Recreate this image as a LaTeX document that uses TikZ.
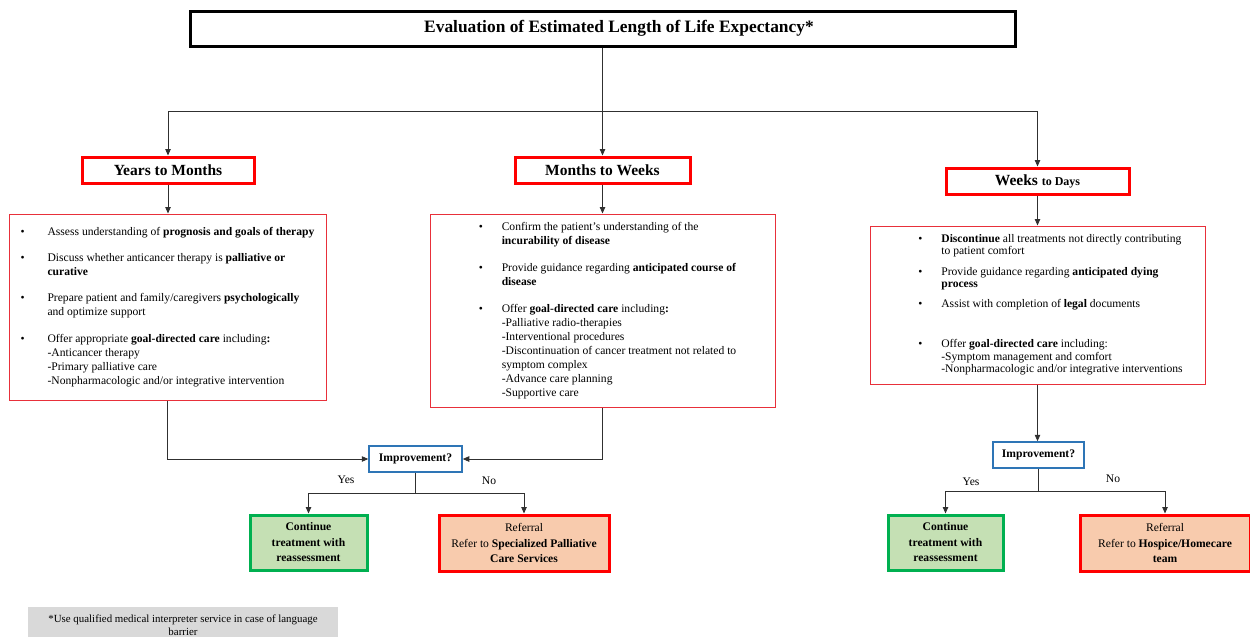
\documentclass[tikz,border=0pt]{standalone}
\usepackage{fontspec}
\setmainfont{Liberation Serif}
\usetikzlibrary{arrows.meta}

\definecolor{boxred}{HTML}{FF0000}
\definecolor{linered}{HTML}{E8303A}
\definecolor{impblue}{HTML}{2E75B6}
\definecolor{contgreen}{HTML}{00B050}
\definecolor{contfill}{HTML}{C5E0B4}
\definecolor{reffill}{HTML}{F8CBAD}
\definecolor{notegray}{HTML}{D9D9D9}
\definecolor{linegray}{HTML}{303030}

\newcommand{\bodyfont}{\fontsize{11.6}{14}\selectfont}

\begin{document}
\begin{tikzpicture}[x=1pt, y=-1pt,
    title/.style={draw=black, line width=3pt, minimum width=825pt, minimum height=35pt, inner sep=0pt, font=\bfseries\fontsize{17.4}{20}\selectfont},
    stage/.style={draw=boxred, line width=3pt, minimum height=26pt, inner sep=0pt, font=\bfseries\fontsize{15.5}{18}\selectfont},
    listbox/.style={draw=linered, line width=1pt, inner sep=0pt},
    question/.style={draw=impblue, line width=1.5pt, minimum height=26pt, inner sep=0pt, font=\bfseries\bodyfont},
    keepon/.style={draw=contgreen, fill=contfill, line width=3pt, minimum height=55pt, inner sep=0pt, align=center, font=\bfseries\fontsize{11.6}{15.5}\selectfont},
    referral/.style={draw=boxred, fill=reffill, line width=3pt, minimum width=170pt, minimum height=56pt, inner sep=0pt, align=center, font=\fontsize{11.6}{15.5}\selectfont},
    answer/.style={font=\bodyfont, inner sep=0pt},
    link/.style={draw=linegray, line width=0.8pt},
    arr/.style={link, -{Triangle[length=6.5pt,width=5.5pt]}}
  ]
  \useasboundingbox (0,0) rectangle (1250,637);

  % Title
  \node[title] (title) at (602.5,28.5) {\hspace*{33pt}Evaluation of Estimated Length of Life Expectancy*};

  % Stages
  \node[stage, minimum width=172pt] (ym) at (168,170) {Years to Months};
  \node[stage, minimum width=175pt] (mw) at (602.5,170) {Months to Weeks};
  \node[stage, minimum width=183pt] (wd) at (1037.5,181) {Weeks {\fontsize{12}{14}\selectfont to Days}};

  % Care boxes
  \node[listbox, minimum width=317pt, minimum height=186pt] (b1) at (167.5,307) {\bodyfont
    \begin{tabular}{@{}p{27pt}@{}l@{}}
      \textbullet & Assess understanding of \textbf{prognosis and goals of therapy}\\[12pt]
      \textbullet & Discuss whether anticancer therapy is \textbf{palliative or}\\
                  & \textbf{curative}\\[12pt]
      \textbullet & Prepare patient and family/caregivers \textbf{psychologically}\\
                  & and optimize support\\[13pt]
      \textbullet & Offer appropriate \textbf{goal-directed care} including\textbf{:}\\
                  & -Anticancer therapy\\
                  & -Primary palliative care\\
                  & -Nonpharmacologic and/or integrative intervention
    \end{tabular}};
  \node[listbox, minimum width=345pt, minimum height=193pt] (b2) at (602.5,310.5) {\bodyfont
    \begin{tabular}{@{\hspace{10pt}}p{23pt}@{}l@{}}
      \textbullet & Confirm the patient’s understanding of the\\
                  & \textbf{incurability of disease}\\[13pt]
      \textbullet & Provide guidance regarding \textbf{anticipated course of}\\
                  & \textbf{disease}\\[13pt]
      \textbullet & Offer \textbf{goal-directed care} including\textbf{:}\\
                  & -Palliative radio-therapies\\
                  & -Interventional procedures\\
                  & -Discontinuation of cancer treatment not related to\\
                  & symptom complex\\
                  & -Advance care planning\\
                  & -Supportive care
    \end{tabular}};
  \node[listbox, minimum width=335pt, minimum height=158pt] (b3) at (1037.5,305) {\fontsize{11.6}{12.5}\selectfont
    \begin{tabular}{@{\hspace{26pt}}p{23pt}@{}l@{}}
      \textbullet & \textbf{Discontinue} all treatments not directly contributing\\
                  & to patient comfort\\[8pt]
      \textbullet & Provide guidance regarding \textbf{anticipated dying}\\
                  & \textbf{process}\\[7pt]
      \textbullet & Assist with completion of \textbf{legal} documents\\[28pt]
      \textbullet & Offer \textbf{goal-directed care} including:\\
                  & -Symptom management and comfort\\
                  & -Nonpharmacologic and/or integrative interventions
    \end{tabular}};

  % Questions
  \node[question, minimum width=93pt] (imp1) at (415.5,459) {Improvement?};
  \node[question, minimum width=91pt] (imp2) at (1038.5,455) {Improvement?};

  % Outcomes
  \node[keepon, minimum width=117pt] (cont1) at (308.5,542.5) {Continue\\treatment with\\reassessment};
  \node[referral] (ref1) at (524,543) {Referral\\Refer to \textbf{Specialized Palliative}\\\textbf{Care Services}};
  \node[keepon, minimum width=115pt] (cont2) at (945.5,542.5) {Continue\\treatment with\\reassessment};
  \node[referral] (ref2) at (1165,543) {Referral\\Refer to \textbf{Hospice/Homecare}\\\textbf{team}};

  % Labels
  \node[answer] (yes1) at (346,480) {Yes};
  \node[answer] (no1) at (489,481) {No};
  \node[answer] (yes2) at (971,482) {Yes};
  \node[answer] (no2) at (1113,479) {No};

  % Footnote
  \node[fill=notegray, minimum width=310pt, minimum height=36pt, inner sep=0pt, align=center,
        font=\fontsize{10.9}{13}\selectfont] (note) at (183,625)
        {*Use qualified medical interpreter service in case of language\\barrier};

  % Connectors
  \coordinate (split) at (602.5,111);
  \draw[link] (title.south) -- (split);
  \draw[arr] (split) -| (ym.north);
  \draw[arr] (split) -- (mw.north);
  \draw[arr] (split) -| (wd.north);

  \draw[arr] (ym.south) -- (ym.south |- b1.north);
  \draw[arr] (mw.south) -- (b2.north);
  \draw[arr] (wd.south) -- (b3.north);

  \draw[arr] (b1.south) |- (imp1.west);
  \draw[arr] (b2.south) |- (imp1.east);
  \draw[arr] (b3.south) -- (b3.south |- imp2.north);

  \coordinate (fork1) at (415.5,493);
  \draw[link] (imp1.south) -- (fork1);
  \draw[arr] (fork1) -| (cont1.north);
  \draw[arr] (fork1) -| (ref1.north);

  \coordinate (fork2) at (1038.5,491);
  \draw[link] (imp2.south) -- (fork2);
  \draw[arr] (fork2) -| (cont2.north);
  \draw[arr] (fork2) -| (ref2.north);
\end{tikzpicture}
\end{document}
